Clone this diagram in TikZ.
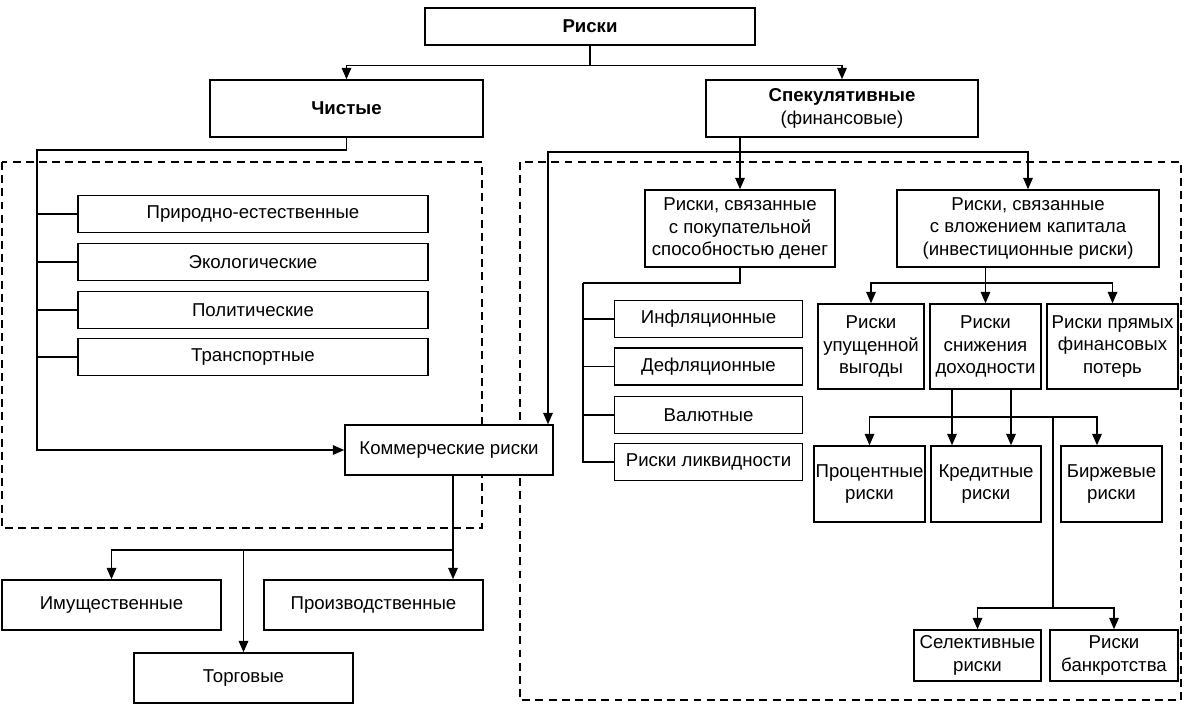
\documentclass[tikz,border=0pt]{standalone}
\usepackage{fontspec}
\setmainfont{Liberation Sans}
\usetikzlibrary{arrows.meta}

\begin{document}
\begin{tikzpicture}[x=0.02cm,y=-0.02cm,
    box/.style={draw,fill=white,line width=0.9pt,inner sep=0pt,align=center,
      font=\fontsize{10.6}{12.8}\selectfont},
    sz/.style 2 args={minimum width=#1*0.02cm,minimum height=#2*0.02cm},
    arr/.style={-{Triangle[length=6.5pt,width=5.5pt]}},
    dashbox/.style={line width=0.75pt,dash pattern=on 4.5pt off 3pt}]
  \fill[white] (0,0) rectangle (1185,707);
  \draw[dashbox] (2,162) rectangle (482,528);
  \draw[dashbox] (520,162) rectangle (1181,700);
  \draw
    (590,26.5) node[box,sz={330}{37}] (risks){\bfseries Риски}
    (346.5,108.5) node[box,sz={273}{57}] (pure){\bfseries Чистые}
    (842,108.5) node[box,sz={272}{57}] (spec){{\bfseries Спекулятивные}\\(финансовые)}
    (253,214) node[box,sz={350}{37}] (nat){Природно-естественные}
    (253,262) node[box,sz={350}{37}] (eco){Экологические}
    (253,310) node[box,sz={350}{37}] (pol){Политические}
    (253,357) node[box,sz={350}{37}] (trans){Транспортные}
    (449,450) node[box,sz={208}{50}] (comm){Коммерческие риски}
    (111.5,605) node[box,sz={219}{50}] (imus){Имущественные}
    (373.5,605) node[box,sz={219}{50}] (prod){Производственные}
    (243.5,678) node[box,sz={219}{50}] (torg){Торговые}
    (740,228.5) node[box,sz={190}{77}] (pur){Риски, связанные\\с покупательной\\способностью денег}
    (1028,228.5) node[box,sz={262}{77}] (inv){Риски, связанные\\с вложением капитала\\(инвестиционные риски)}
    (708.5,319) node[box,sz={188}{37}] (infl){Инфляционные}
    (708.5,366.5) node[box,sz={188}{37}] (defl){Дефляционные}
    (708.5,415) node[box,sz={188}{37}] (val){Валютные}
    (708.5,462) node[box,sz={188}{37}] (liq){Риски ликвидности}
    (871,346.5) node[box,sz={106}{85}] (upush){Риски\\упущенной\\выгоды}
    (985.5,346.5) node[box,sz={111}{85}] (sniz){Риски\\снижения\\доходности}
    (1112.5,346.5) node[box,sz={131}{85}] (pryam){Риски прямых\\финансовых\\потерь}
    (869.5,484) node[box,sz={111}{76}] (proc){Процентные\\риски}
    (986,484) node[box,sz={110}{76}] (cred){Кредитные\\риски}
    (1111.5,484) node[box,sz={101}{76}] (birzh){Биржевые\\риски}
    (977.5,655.5) node[box,sz={127}{51}] (sel){Селективные\\риски}
    (1114,655.5) node[box,sz={128}{51}] (bankr){Риски\\банкротства};
  \coordinate (lbus) at (37,150);
  \coordinate (sbus) at (548,152);
  \coordinate (pbus) at (583,283);
  \coordinate (ibus) at (985.5,283);
  \coordinate (dl) at (952,417);
  \coordinate (dr) at (1011,417);
  \coordinate (db) at (1097,417);
  \coordinate (dm) at (1053,417);
  \coordinate (sbot) at (1053,608);
  \coordinate (cbus) at (453,550);
  \begin{scope}[line width=0.7pt]
    \draw[arr] (risks.south) -- ++(0,20) -| (pure.north);
    \draw[arr] (risks.south) -- ++(0,20) -| (spec.north);
    \draw[arr] (pure.south) |- (lbus) |- (comm.west);
    \draw (lbus) |- (nat.west);
    \draw (lbus) |- (eco.west);
    \draw (lbus) |- (pol.west);
    \draw (lbus) |- (trans.west);
    \draw[arr] (spec.south -| pur.north) -- (pur.north);
    \draw[arr] (spec.south -| pur.north) |- (sbus) -- (sbus |- comm.north);
    \draw[arr] (spec.south -| pur.north) |- (inv.north |- sbus) -- (inv.north);
    \draw (pur.south) |- (pbus);
    \draw (pbus) |- (infl.west);
    \draw (pbus) |- (defl.west);
    \draw (pbus) |- (val.west);
    \draw (pbus) |- (liq.west);
    \draw[arr] (inv.south -| sniz.north) -- (sniz.north);
    \draw[arr] (ibus) -| (upush.north);
    \draw[arr] (ibus) -| (pryam.north);
    \draw[arr] (sniz.south -| dl) -- (dl) -- (cred.north -| dl);
    \draw[arr] (sniz.south -| dr) -- (dr) -- (cred.north -| dr);
    \draw[arr] (dr) -- (dl) -| (proc.north);
    \draw[arr] (dr) -- (db) -- (db |- birzh.north);
    \draw (dm) -- (sbot);
    \draw[arr] (sbot) -| (sel.north);
    \draw[arr] (sbot) -| (bankr.north);
    \draw[arr] (comm.south -| cbus) -- (cbus) -- (cbus |- prod.north);
    \draw[arr] (cbus) -| (imus.north);
    \draw[arr] (cbus -| torg.north) -- (torg.north);
  \end{scope}
\end{tikzpicture}
\end{document}
